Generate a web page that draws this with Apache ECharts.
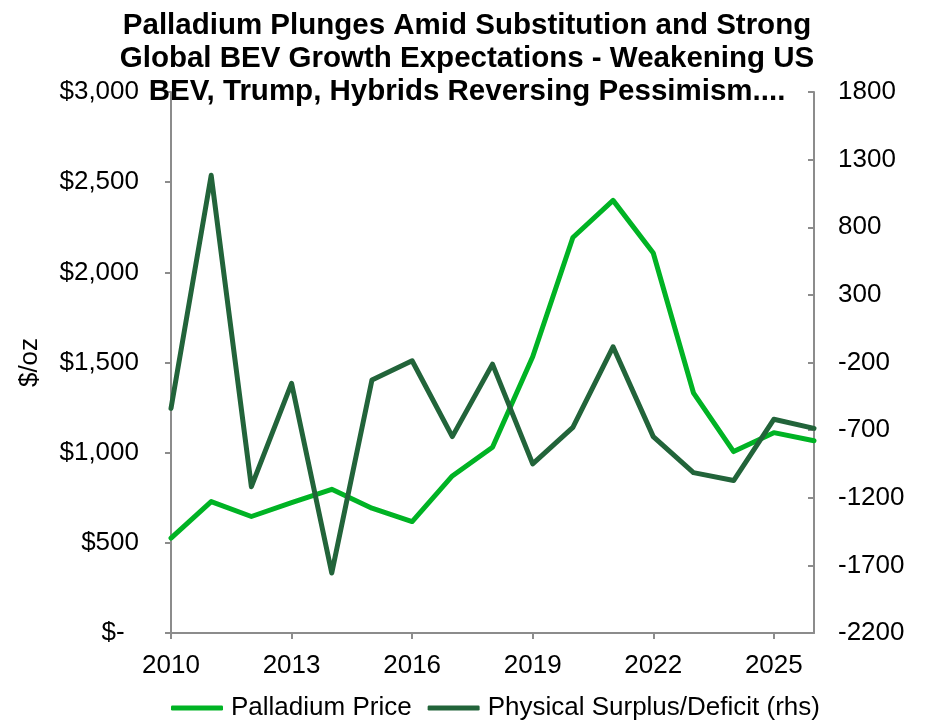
<!DOCTYPE html>
<html><head><meta charset="utf-8">
<script src="https://cdn.jsdelivr.net/npm/echarts@6/dist/echarts.min.js"></script>
<style>html,body{margin:0;padding:0;background:#fff}#c{width:926px;height:722px}</style>
</head><body><div id="c"></div>
<script>
const years = ['2010','2011','2012','2013','2014','2015','2016','2017','2018','2019','2020','2021','2022','2023','2024','2025','2026'];
const palladiumPrice = [526,729,646,723,797,692,618,871,1030,1532,2193,2399,2107,1332,1006,1111,1066];
const surplusDeficit = [-539,1184,-1118,-354,-1757,-330,-187,-748,-212,-950,-679,-84,-748,-1014,-1073,-620,-687];
const titleText = 'Palladium Plunges Amid Substitution and Strong\nGlobal BEV Growth Expectations - Weakening US\nBEV, Trump, Hybrids Reversing Pessimism....';
const seriesNames = ['Palladium Price','Physical Surplus/Deficit (rhs)'];

const axisGray = '#8c8c8c';
const font = 'Liberation Sans, Arial, sans-serif';
const fs = 26;
const chart = echarts.init(document.getElementById('c'));
chart.setOption({
  animation:false,
  backgroundColor:'#fff',
  title:{text:titleText,left:462,textAlign:'center',top:4,
    textStyle:{fontFamily:font,fontWeight:'bold',fontSize:29.5,lineHeight:33,color:'#000'}},
  grid:{left:171,right:112,top:92,bottom:89},
  legend:{bottom:1,left:171,padding:0,itemWidth:52,itemHeight:5,itemGap:16,
    textStyle:{fontFamily:font,fontSize:fs,color:'#000',padding:[0,0,0,3]},
    data:seriesNames.map(n=>({name:n,icon:'roundRect'}))},
  xAxis:{type:'category',data:years,boundaryGap:false,
    axisLine:{lineStyle:{color:axisGray,width:2}},
    axisTick:{interval:2,length:6,lineStyle:{color:axisGray,width:2}},
    axisLabel:{interval:2,fontFamily:font,fontSize:fs,color:'#000',margin:20},
    splitLine:{show:false}},
  yAxis:[
    {type:'value',min:0,max:3000,interval:500,name:'$/oz',nameLocation:'middle',nameGap:128,nameRotate:90,
     nameTextStyle:{fontFamily:font,fontSize:fs,color:'#000'},
     axisLine:{show:true,lineStyle:{color:axisGray,width:2}},
     axisTick:{show:true,length:6,lineStyle:{color:axisGray,width:2}},
     axisLabel:{fontFamily:font,fontSize:fs,color:'#000',margin:32,
       formatter:v=>v===0?'$-  ':'$'+v.toLocaleString('en-US')},
     splitLine:{show:false}},
    {type:'value',min:-2200,max:1800,interval:500,position:'right',
     axisLine:{show:true,lineStyle:{color:axisGray,width:2}},
     axisTick:{show:true,inside:true,length:6,lineStyle:{color:axisGray,width:2}},
     axisLabel:{fontFamily:font,fontSize:fs,color:'#000',margin:24,formatter:v=>String(v)},
     splitLine:{show:false}}
  ],
  series:[
    {name:seriesNames[0],type:'line',yAxisIndex:0,data:palladiumPrice,symbol:'none',
     lineStyle:{color:'#00b324',width:5,cap:'round',join:'round'},itemStyle:{color:'#00b324'}},
    {name:seriesNames[1],type:'line',yAxisIndex:1,data:surplusDeficit,symbol:'none',
     lineStyle:{color:'#22643a',width:5,cap:'round',join:'round'},itemStyle:{color:'#22643a'}}
  ]
});
</script></body></html>
